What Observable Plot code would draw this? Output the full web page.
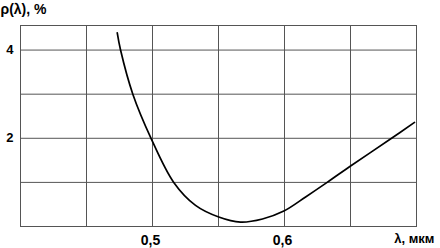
<!DOCTYPE html>
<html>
<head>
<meta charset="utf-8">
<script src="https://cdn.jsdelivr.net/npm/d3@7"></script>
<script src="https://cdn.jsdelivr.net/npm/@observablehq/plot@0.6"></script>
<style>
  html, body { margin: 0; padding: 0; background: #fff; }
  svg { display: block; }
</style>
</head>
<body>
<div id="chart"></div>
<script>
// Spectral reflectance curve ρ(λ), % vs λ, мкм
const lambda = [0.4733, 0.4758, 0.4851, 0.4989, 0.5161, 0.5326, 0.5502, 0.5667, 0.5833, 0.5995, 0.6160, 0.6323, 0.6495, 0.6811, 0.6985];
const rho    = [4.39,   4.00,   3.00,   2.00,   1.00,   0.48,   0.216,  0.10,   0.17,   0.35,   0.67,   1.00,   1.36,   2.00,   2.36];
const xGrid = [0.4, 0.45, 0.5, 0.55, 0.6, 0.65, 0.7];
const yGrid = [1, 2, 3, 4];
const xTicks = [0.5, 0.6];
const yTicks = [2, 4];
const yLabel = "ρ(λ), %";
const xLabel = "λ, мкм";

const data = lambda.map((x, i) => ({x, y: rho[i]}));
const font = "'Liberation Sans', Arial, Helvetica, sans-serif";

const chart = Plot.plot({
  width: 440,
  height: 248,
  marginLeft: 20,
  marginRight: 24,
  marginTop: 25,
  marginBottom: 22,
  style: {fontFamily: font, background: "#fff"},
  x: {domain: [0.4, 0.7]},
  y: {domain: [0, 4.557]},
  marks: [
    Plot.ruleX(xGrid, {stroke: "#555", strokeWidth: 1}),
    Plot.ruleY(yGrid, {stroke: "#555", strokeWidth: 1}),
    Plot.frame({stroke: "#555", strokeWidth: 1}),
    Plot.line(data, {x: "x", y: "y", curve: "catmull-rom", stroke: "#000", strokeWidth: 1.7}),
    Plot.axisX(xTicks, {tickSize: 0, tickPadding: 9, fontSize: 14, fontWeight: "bold", label: null,
      tickFormat: d => d.toFixed(1).replace(".", ","), fill: "#000", dx: -2}),
    Plot.axisY(yTicks, {tickSize: 0, tickPadding: 7, fontSize: 13, fontWeight: "bold", label: null,
      tickFormat: d => String(d), fill: "#000"}),
    Plot.text([yLabel], {frameAnchor: "top-left", dx: -20, dy: -21, fontSize: 14, fontWeight: "bold", fill: "#000", textAnchor: "start"}),
    Plot.text([xLabel], {frameAnchor: "bottom-right", dx: 18, dy: 16, fontSize: 13, fontWeight: "bold", fill: "#000", textAnchor: "end"})
  ]
});
document.getElementById("chart").append(chart);
</script>
</body>
</html>
